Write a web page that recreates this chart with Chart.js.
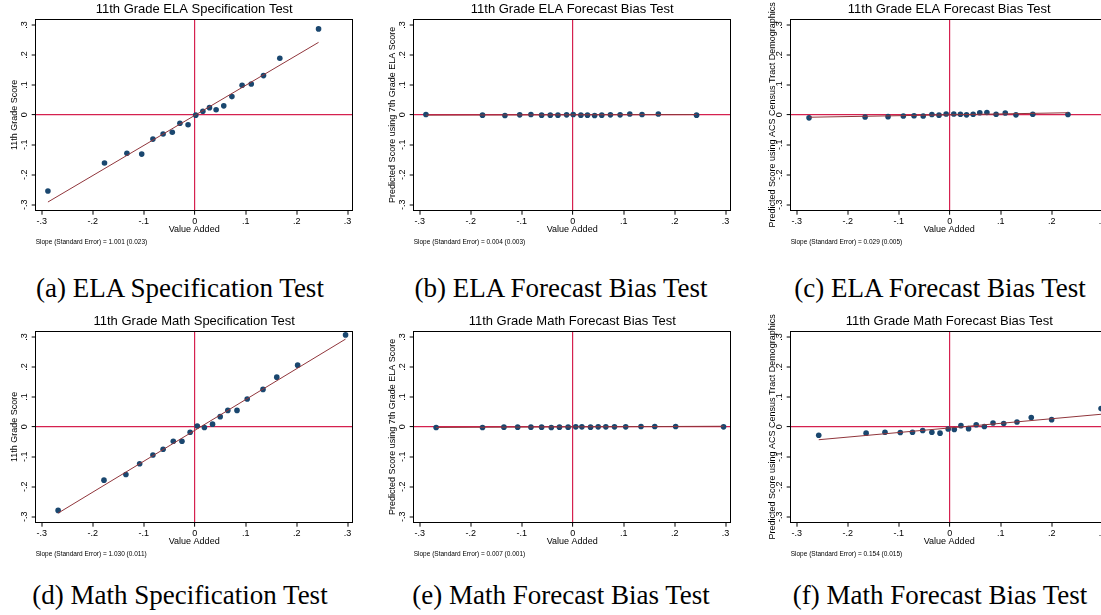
<!DOCTYPE html>
<html>
<head>
<meta charset="utf-8">
<script src="https://cdn.jsdelivr.net/npm/chart.js@4.4.1/dist/chart.umd.min.js"></script>
<style>
  body { margin: 0; background: #fff; width: 1101px; height: 615px; overflow: hidden; position: relative; }
  canvas { position: absolute; }
  .cap { position: absolute; width: 400px; text-align: center; font-family: "Liberation Serif", "Times New Roman", serif; font-size: 27px; line-height: 26px; white-space: nowrap; color: #000; }
</style>
</head>
<body>
<canvas id="pA" width="370" height="250" style="left:0px;top:0px"></canvas>
<canvas id="pB" width="370" height="250" style="left:377.6px;top:0px"></canvas>
<canvas id="pC" width="370" height="250" style="left:755px;top:0px"></canvas>
<canvas id="pD" width="370" height="250" style="left:0px;top:312px"></canvas>
<canvas id="pE" width="370" height="250" style="left:377.6px;top:312px"></canvas>
<canvas id="pF" width="370" height="250" style="left:755px;top:312px"></canvas>

<div class="cap" style="left:-20px;top:275px">(a) ELA Specification Test</div>
<div class="cap" style="left:361px;top:275px">(b) ELA Forecast Bias Test</div>
<div class="cap" style="left:740px;top:275px">(c) ELA Forecast Bias Test</div>
<div class="cap" style="left:-20px;top:582px">(d) Math Specification Test</div>
<div class="cap" style="left:361px;top:582px">(e) Math Forecast Bias Test</div>
<div class="cap" style="left:740px;top:582px">(f) Math Forecast Bias Test</div>

<script>
// valeurs (binned scatter, 20 points par panneau)
const elaSpecX = [-0.288, -0.177, -0.133, -0.104, -0.082, -0.062, -0.044, -0.029, -0.013, 0.002, 0.016, 0.029, 0.042, 0.057, 0.073, 0.093, 0.111, 0.135, 0.167, 0.243];
const elaSpecY = [-0.254, -0.161, -0.128, -0.131, -0.081, -0.064, -0.058, -0.028, -0.033, -0.001, 0.012, 0.024, 0.017, 0.030, 0.061, 0.099, 0.103, 0.131, 0.189, 0.287];
const elaSpecFitX = [-0.288, 0.243];
const elaSpecFitY = [-0.291, 0.242];

const elaBias7X = [-0.288, -0.177, -0.133, -0.104, -0.082, -0.061, -0.044, -0.029, -0.012, 0.001, 0.016, 0.029, 0.043, 0.057, 0.074, 0.093, 0.112, 0.136, 0.168, 0.243];
const elaBias7Y = [0.001, -0.001, -0.002, 0.000, 0.001, -0.001, -0.001, -0.001, 0.000, 0.001, -0.001, -0.001, -0.002, -0.001, 0.000, 0.000, 0.003, 0.001, 0.003, -0.001];
const elaBias7FitX = [-0.288, 0.243];
const elaBias7FitY = [-0.001, 0.001];

const elaBiasAcsX = [-0.276, -0.166, -0.121, -0.091, -0.070, -0.052, -0.035, -0.021, -0.007, 0.008, 0.021, 0.033, 0.046, 0.059, 0.073, 0.091, 0.109, 0.130, 0.163, 0.232];
const elaBiasAcsY = [-0.010, -0.007, -0.006, -0.004, -0.003, -0.004, 0.001, -0.001, 0.003, 0.003, 0.002, 0.000, 0.002, 0.007, 0.008, 0.002, 0.006, 0.000, 0.002, 0.001];
const elaBiasAcsFitX = [-0.276, 0.232];
const elaBiasAcsFitY = [-0.008, 0.007];

const mathSpecX = [-0.268, -0.178, -0.135, -0.108, -0.082, -0.062, -0.042, -0.025, -0.009, 0.005, 0.019, 0.035, 0.050, 0.065, 0.083, 0.103, 0.134, 0.161, 0.202, 0.296];
const mathSpecY = [-0.279, -0.178, -0.159, -0.123, -0.094, -0.075, -0.048, -0.048, -0.018, 0.003, -0.002, 0.009, 0.034, 0.055, 0.055, 0.093, 0.125, 0.166, 0.206, 0.307];
const mathSpecFitX = [-0.268, 0.296];
const mathSpecFitY = [-0.288, 0.293];

const mathBias7X = [-0.268, -0.177, -0.135, -0.108, -0.082, -0.061, -0.042, -0.026, -0.009, 0.006, 0.018, 0.035, 0.050, 0.065, 0.082, 0.104, 0.134, 0.161, 0.202, 0.296];
const mathBias7Y = [-0.002, -0.002, -0.001, -0.001, -0.001, -0.001, -0.002, -0.001, -0.001, 0.000, 0.000, -0.001, 0.000, 0.000, 0.000, 0.000, 0.001, 0.001, 0.001, 0.000];
const mathBias7FitX = [-0.268, 0.296];
const mathBias7FitY = [-0.002, 0.002];

const mathBiasAcsX = [-0.257, -0.164, -0.127, -0.097, -0.073, -0.053, -0.035, -0.019, -0.003, 0.009, 0.022, 0.037, 0.052, 0.068, 0.085, 0.106, 0.132, 0.160, 0.200, 0.297];
const mathBiasAcsY = [-0.028, -0.021, -0.018, -0.019, -0.018, -0.012, -0.018, -0.021, -0.007, -0.009, 0.004, -0.006, 0.007, 0.001, 0.013, 0.011, 0.016, 0.031, 0.024, 0.061];
const mathBiasAcsFitX = [-0.257, 0.297];
const mathBiasAcsFitY = [-0.043, 0.042];

const NAVY = '#1a476f';
const MAROON = '#90353b';
const CRIMSON = '#d5214f';

Chart.defaults.font.family = '"Liberation Sans", Arial, Helvetica, sans-serif';
Chart.defaults.color = '#000';

// format Stata : .3, -.2, 0
function fmtTick(v) {
  const r = Math.round(v * 10);
  if (r === 0) return '0';
  return (r < 0 ? '-' : '') + '.' + Math.abs(r);
}

const isZero = c => c.tick && Math.abs(c.tick.value) < 1e-9;

function gridOpts() {
  return {
    drawOnChartArea: true,
    drawTicks: true,
    tickLength: 4,
    tickColor: '#000',
    tickWidth: 1,
    color: c => isZero(c) ? CRIMSON : 'rgba(0,0,0,0)',
    lineWidth: c => isZero(c) ? 1.2 : 0
  };
}

// cadre autour de la zone de tracé
const frame = {
  id: 'frame',
  afterDraw(chart) {
    const { ctx, chartArea: a } = chart;
    const l = Math.round(a.left - 0.5) + 0.5, r = Math.round(a.right - 0.5) + 0.5;
    const t = Math.round(a.top - 0.5) + 0.5, b = Math.round(a.bottom - 0.5) + 0.5;
    ctx.save();
    ctx.strokeStyle = '#000';
    ctx.lineWidth = 1;
    ctx.strokeRect(l, t, r - l, b - t);
    ctx.restore();
  }
};

// titre de l'axe y sans compression (le titre intégré est limité à la hauteur de l'axe)
const yLabel = {
  id: 'yLabel',
  afterDraw(chart, args, opts) {
    const { ctx, chartArea: a } = chart;
    ctx.save();
    ctx.translate(chart.scales.y.left + opts.offset, (a.top + a.bottom) / 2);
    ctx.rotate(-Math.PI / 2);
    ctx.font = '9px "Liberation Sans", Arial, sans-serif';
    ctx.textAlign = 'center';
    ctx.textBaseline = 'middle';
    ctx.fillStyle = '#000';
    ctx.fillText(opts.text, 0, 0);
    ctx.restore();
  }
};

function makePanel(id, title, yTitle, note, xs, ys, fitX, fitY, labelOffset) {
  const pts = xs.map((x, i) => ({ x: x, y: ys[i] }));
  const fit = fitX.map((x, i) => ({ x: x, y: fitY[i] }));
  return new Chart(document.getElementById(id), {
    type: 'scatter',
    data: {
      datasets: [
        { data: fit, showLine: true, borderColor: MAROON, borderWidth: 1, pointRadius: 0, order: 0 },
        { data: pts, pointRadius: 2.8, backgroundColor: NAVY, borderWidth: 0, order: 1 }
      ]
    },
    options: {
      responsive: false,
      animation: false,
      layout: { padding: { left: 0, right: 17.3, top: 0, bottom: 3.1 } },
      plugins: {
        legend: { display: false },
        tooltip: { enabled: false },
        title: {
          display: true, text: title, fullSize: false, color: '#000',
          font: { size: 13, weight: 'normal', lineHeight: 1.2 },
          padding: { top: 1.6, bottom: 1.8 }
        },
        subtitle: {
          display: true, text: note, position: 'bottom', align: 'start', fullSize: false, color: '#000',
          font: { size: 6.5, lineHeight: 1.2 },
          padding: { top: 4.4, bottom: 1 }
        },
        yLabel: { text: yTitle, offset: labelOffset }
      },
      scales: {
        x: {
          type: 'linear', min: -0.312, max: 0.31,
          afterFit: s => { s.height = 23; },
          ticks: { stepSize: 0.1, includeBounds: false, callback: fmtTick, font: { size: 9 }, padding: 1, maxRotation: 0, autoSkip: false },
          grid: gridOpts(),
          border: { display: true, color: '#000', width: 1 },
          title: { display: true, text: 'Value Added', font: { size: 9, lineHeight: 1 }, padding: { top: 0, bottom: 0 } }
        },
        y: {
          type: 'linear', min: -0.32, max: 0.32,
          afterFit: s => { s.width = 35.7; },
          ticks: { stepSize: 0.1, includeBounds: false, callback: fmtTick, font: { size: 9 }, padding: 2.4, minRotation: 90, maxRotation: 90, crossAlign: 'center', autoSkip: false },
          grid: gridOpts(),
          border: { display: true, color: '#000', width: 1 }
        }
      }
    },
    plugins: [frame, yLabel]
  });
}

makePanel('pA', '11th Grade ELA Specification Test', '11th Grade Score',
  'Slope (Standard Error) = 1.001 (0.023)', elaSpecX, elaSpecY, elaSpecFitX, elaSpecFitY, 14.7);
makePanel('pB', '11th Grade ELA Forecast Bias Test', 'Predicted Score using 7th Grade ELA Score',
  'Slope (Standard Error) = 0.004 (0.003)', elaBias7X, elaBias7Y, elaBias7FitX, elaBias7FitY, 14.5);
makePanel('pC', '11th Grade ELA Forecast Bias Test', 'Predicted Score using ACS Census Tract Demographics',
  'Slope (Standard Error) = 0.029 (0.005)', elaBiasAcsX, elaBiasAcsY, elaBiasAcsFitX, elaBiasAcsFitY, 18);
makePanel('pD', '11th Grade Math Specification Test', '11th Grade Score',
  'Slope (Standard Error) = 1.030 (0.011)', mathSpecX, mathSpecY, mathSpecFitX, mathSpecFitY, 14.7);
makePanel('pE', '11th Grade Math Forecast Bias Test', 'Predicted Score using 7th Grade ELA Score',
  'Slope (Standard Error) = 0.007 (0.001)', mathBias7X, mathBias7Y, mathBias7FitX, mathBias7FitY, 14.5);
makePanel('pF', '11th Grade Math Forecast Bias Test', 'Predicted Score using ACS Census Tract Demographics',
  'Slope (Standard Error) = 0.154 (0.015)', mathBiasAcsX, mathBiasAcsY, mathBiasAcsFitX, mathBiasAcsFitY, 18);
</script>
</body>
</html>
